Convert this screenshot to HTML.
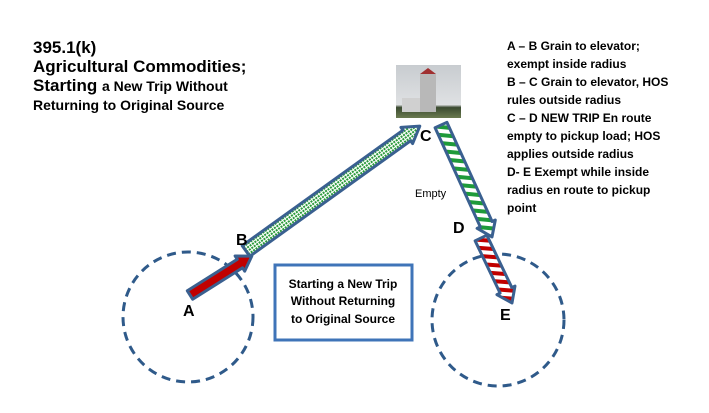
<!DOCTYPE html>
<html><head><style>
body{margin:0;width:709px;height:413px;background:#fff;overflow:hidden;font-family:"Liberation Sans",sans-serif;}
</style></head><body>
<svg width="709" height="413" xmlns="http://www.w3.org/2000/svg" style="position:absolute;left:0;top:0">
<defs>
<pattern id="chk" width="3" height="3" patternUnits="userSpaceOnUse"><rect width="3" height="3" fill="#fff"/><rect width="2" height="2" fill="#2a9a3a"/></pattern>
<pattern id="gs" width="8" height="8" patternUnits="userSpaceOnUse" patternTransform="rotate(30)"><rect width="8" height="8" fill="#fff"/><rect width="4" height="8" fill="#1e9a3a"/></pattern>
<pattern id="rs" width="8" height="8" patternUnits="userSpaceOnUse" patternTransform="rotate(30)"><rect width="8" height="8" fill="#fff"/><rect width="4" height="8" fill="#c00000"/></pattern>
<linearGradient id="sky" x1="0" y1="0" x2="0" y2="1"><stop offset="0" stop-color="#c8ccd0"/><stop offset="0.75" stop-color="#dfe1e3"/><stop offset="0.8" stop-color="#3a4a30"/><stop offset="1" stop-color="#6a7a50"/></linearGradient>
</defs>
<circle cx="188" cy="317" r="65" fill="none" stroke="#2f5a8a" stroke-width="3" stroke-dasharray="9,6"/>
<circle cx="498" cy="320" r="66" fill="none" stroke="#2f5a8a" stroke-width="3" stroke-dasharray="9,6"/>
<rect x="396" y="65" width="65" height="53" fill="url(#sky)"/>
<rect x="420" y="74" width="16" height="38" fill="#b8b8b8"/>
<polygon points="420,74 428,68 436,74" fill="#a03030"/>
<rect x="402" y="98" width="18" height="14" fill="#d0d0d0"/>
<g transform="translate(190,295) rotate(-32.2)"><polygon points="0,-5 59,-5 59,-9 73,0 59,9 59,5 0,5" fill="#c00000" stroke="#3a6090" stroke-width="3" stroke-linejoin="round"/></g>
<g transform="translate(246,251) rotate(-35.7)"><polygon points="0,-6.5 198,-6.5 198,-10 214,0 198,10 198,6.5 0,6.5" fill="url(#chk)" stroke="#3a6090" stroke-width="3" stroke-linejoin="round"/></g>
<g transform="translate(441,125) rotate(65.5)"><polygon points="0,-6.5 109,-6.5 109,-10 123,0 109,10 109,6.5 0,6.5" fill="url(#gs)" stroke="#3a6090" stroke-width="3" stroke-linejoin="round"/></g>
<g transform="translate(481,238) rotate(64.5)"><polygon points="0,-6.5 58,-6.5 58,-10 72,0 58,10 58,6.5 0,6.5" fill="url(#rs)" stroke="#3a6090" stroke-width="3" stroke-linejoin="round"/></g>
<rect x="275" y="265" width="137" height="75" fill="#fff" stroke="#3f74b8" stroke-width="3"/>
<g font-family="Liberation Sans,sans-serif" font-weight="bold" font-size="16" fill="#000">
<text x="183" y="316">A</text><text x="236" y="245">B</text><text x="420" y="141">C</text><text x="453" y="233">D</text><text x="500" y="320">E</text>
</g>
<text x="415" y="197" font-size="11" fill="#000">Empty</text>
<g font-size="12" font-weight="bold" fill="#000" text-anchor="middle">
<text x="343" y="288">Starting a New Trip</text><text x="343" y="305">Without Returning</text><text x="343" y="323">to Original Source</text>
</g>
<g font-size="17" font-weight="bold" fill="#000">
<text x="33" y="53">395.1(k)</text><text x="33" y="72">Agricultural Commodities;</text>
<text x="33" y="91">Starting <tspan font-size="14">a New Trip Without</tspan></text>
<text x="33" y="110" font-size="14">Returning to Original Source</text>
</g>
<g font-size="12" font-weight="bold" fill="#000">
<text x="507" y="50">A – B Grain to elevator;</text><text x="507" y="68">exempt inside radius</text>
<text x="507" y="86">B – C Grain to elevator, HOS</text><text x="507" y="104">rules outside radius</text>
<text x="507" y="122">C – D NEW TRIP En route</text><text x="507" y="140">empty to pickup load; HOS</text>
<text x="507" y="158">applies outside radius</text><text x="507" y="176">D- E    Exempt while inside</text>
<text x="507" y="194">radius en route to pickup</text><text x="507" y="212">point</text>
</g>
</svg>
</body></html>
